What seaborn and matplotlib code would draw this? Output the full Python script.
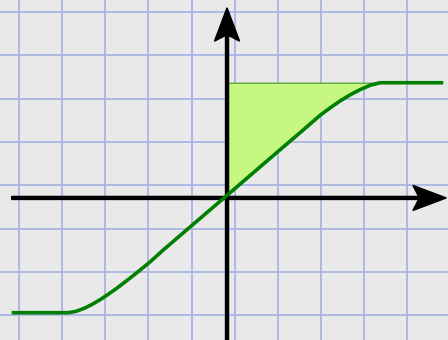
import numpy as np
import matplotlib
matplotlib.use("Agg")
import matplotlib.pyplot as plt
import seaborn as sns

# Curve points (grid units, origin at axes crossing)
curve_x = [-4.97, -3.67, -3.49, -3.30, -3.12, -2.93, -2.75, -2.55, -2.16, -1.78, -1.47,
           0.00, 1.22, 1.69, 2.15, 2.38, 2.61, 2.84, 3.07, 3.30, 3.53, 4.99]
curve_y = [-2.65, -2.65, -2.62, -2.55, -2.46, -2.35, -2.23, -2.09, -1.79, -1.48, -1.20,
           0.06, 1.11, 1.51, 1.91, 2.08, 2.24, 2.38, 2.50, 2.60, 2.66, 2.66]
ceiling = 2.66          # top of the shaded region
fill_from, fill_to = 0.0, 3.53

# paper grid lines (offset from the axes, like squared paper)
grid_x0, grid_dx, n_vx = -4.80, 0.995, 10
grid_y0, grid_dy, n_hy = 4.29, 1.0, 8

BG = "#e9e9e9"
GRID = "#a9b4e6"
GREEN = "#008000"
FILL = "#c6f881"

sns.set_style("white")
fig = plt.figure(figsize=(4.48, 3.4), dpi=100)
fig.patch.set_facecolor(BG)
ax = fig.add_axes([0, 0, 1, 1])
ax.set_facecolor(BG)

ax.set_xlim(-5.24, 5.10)
ax.set_ylim(-3.28, 4.57)

# squared paper
ax.set_xticks(grid_x0 + grid_dx * np.arange(n_vx))
ax.set_yticks(grid_y0 - grid_dy * np.arange(n_hy))
ax.grid(True, color=GRID, lw=1.3)
ax.tick_params(length=0, labelbottom=False, labelleft=False)
for s in ax.spines.values():
    s.set_visible(False)
ax.set_axisbelow(True)

df_x = np.array(curve_x)
df_y = np.array(curve_y)
mask = (df_x >= fill_from) & (df_x <= fill_to)
ax.fill_between(df_x[mask], df_y[mask], ceiling, facecolor=FILL,
                edgecolor="#5aa83c", lw=1.0, zorder=2)

# axes with arrows
arrow_kw = dict(width=0.07, head_width=0.58, head_length=0.77, overhang=0.17,
                length_includes_head=True, color="black", zorder=3)
ax.arrow(-4.97, 0, 5.06 + 4.97, 0, **arrow_kw)
ax.arrow(0, -3.4, 0, 4.39 + 3.4, **arrow_kw)

sns.lineplot(x=curve_x, y=curve_y, sort=False, estimator=None, ax=ax,
             color=GREEN, lw=2.6, zorder=4, solid_joinstyle="round",
             solid_capstyle="butt")

fig.savefig("out.png", dpi=100, facecolor=BG)
